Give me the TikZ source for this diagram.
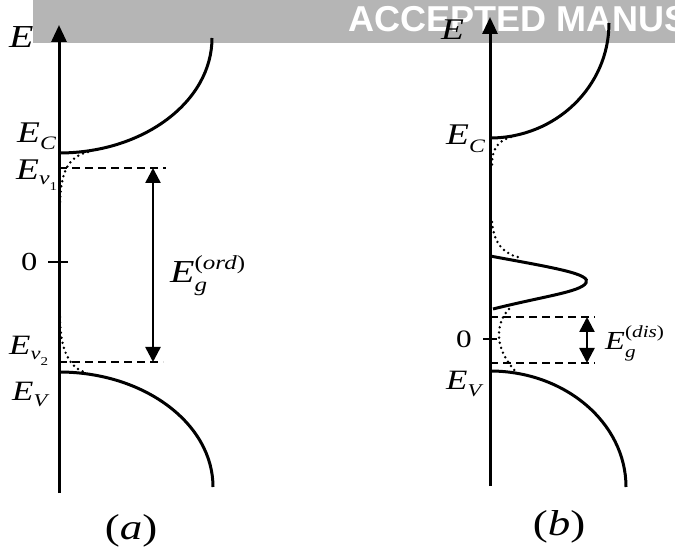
\documentclass[tikz,border=0pt]{standalone}
\usepackage{graphicx}
\usepackage{fontspec}
\setmainfont{Liberation Serif}
\newfontfamily\bannerfont{Liberation Sans}
\usetikzlibrary{arrows.meta}
\newcommand\fs[1]{\fontsize{#1}{#1}\selectfont}
\newcommand\hs[1]{\scalebox{1.25}[1]{#1}}
\tikzset{
  axisline/.style={line width=3pt,-{Triangle[length=17pt,width=15pt]}},
  band/.style={line width=3pt},
  dots/.style={line width=2.7pt,dash pattern=on 0pt off 5.2pt,line cap=round},
  dashline/.style={line width=1.3pt,dash pattern=on 8pt off 5pt},
  gaparrow/.style={line width=2.5pt,{Triangle[length=15pt,width=15pt]}-{Triangle[length=15pt,width=15pt]}},
  tick/.style={line width=2pt},
  lab/.style={inner sep=0pt,anchor=base west},
}
\begin{document}
\begin{tikzpicture}[x=1pt,y=-1pt]
\useasboundingbox (0,0) rectangle (675,553);
% banner
\begin{scope}
\clip (0,0) rectangle (675,553);
\fill[fill={rgb,255:red,181;green,181;blue,181}] (33,0) rectangle (675,43);
\node[lab,text=white] (banner) at (348,32) {\bannerfont\bfseries\fs{36}ACCEPTED MANUS};
\end{scope}

% ---------------- panel (a) ----------------
\coordinate (a0) at (59,493);
\coordinate (a1) at (59,25);
\draw[axisline] (a0) -- (a1);
\draw[band] (59,153) .. controls (143.5,153) and (212,101.5) .. (212,38);
\draw[band] (59,372) .. controls (144,372) and (213,423.5) .. (213,487);
\draw[dots] (88,152) .. controls (68,157) and (60,172) .. (60,207);
\draw[dots] (60,317) .. controls (60,345) and (67,366) .. (84,372);
\coordinate (ev1a) at (59,168); \coordinate (ev1b) at (166,168);
\coordinate (ev2a) at (59,362); \coordinate (ev2b) at (163,362);
\draw[dashline] (ev1a) -- (ev1b);
\draw[dashline] (ev2a) -- (ev2b);
\coordinate (ga1) at (153,168); \coordinate (ga2) at (153,362);
\draw[gaparrow] (ga1) -- (ga2);
\coordinate (ta1) at (48,262); \coordinate (ta2) at (68,262);
\draw[tick] (ta1) -- (ta2);

\node[lab] (Ea) at (9,48) {\hs{\fs{32}\textit{E}}};
\node[lab] (ECa) at (17,143) {\hs{\fs{30}\textit{E}\raisebox{-7pt}{\fs{19}\textit{C}}}};
\node[lab] (Ev1a) at (16,180) {\hs{\fs{30}\textit{E}\raisebox{-5pt}{\fs{19}\textit{ν}\raisebox{-6pt}{\fs{12}1}}}};
\node[lab] (zeroa) at (21,271) {\hs{\fs{26}0}};
\node[lab] (Egord) at (170,283) {\hs{\fs{32}\textit{E}\raisebox{-9pt}{\rlap{\fs{20}\textit{g}}}\raisebox{13pt}{\fs{20}(\textit{ord})}}};
\node[lab] (Ev2a) at (9,355) {\hs{\fs{28}\textit{E}\raisebox{-5pt}{\fs{18}\textit{ν}\raisebox{-6pt}{\fs{12}2}}}};
\node[lab] (EVa) at (12,400) {\hs{\fs{28}\textit{E}\raisebox{-6pt}{\fs{18}\textit{V}}}};
\node[inner sep=0pt] (capa) at (131,531) {\hs{\fs{36}(\textit{a})}};

% ---------------- panel (b) ----------------
\coordinate (b0) at (490,486);
\coordinate (b1) at (490,17);
\draw[axisline] (b0) -- (b1);
\draw[band] (490,138) .. controls (555.7,138) and (609,86.5) .. (609,23);
\draw[band] (490,371) .. controls (565,371) and (626,423) .. (626,487);
\draw[band] (490,256) .. controls (555,268) and (592,274) .. (586,283)
                      .. controls (580,292) and (545,296) .. (493,309);
\draw[dots] (511,137) .. controls (496,142) and (492,150) .. (492,166);
\draw[dots] (492,222) .. controls (494,245) and (505,255) .. (522,258);
\draw[dots] (509,309) .. controls (494,325) and (494,352) .. (521,377);
\coordinate (d1a) at (490,317); \coordinate (d1b) at (595,317);
\coordinate (d2a) at (490,363); \coordinate (d2b) at (595,363);
\draw[dashline] (d1a) -- (d1b);
\draw[dashline] (d2a) -- (d2b);
\coordinate (gb1) at (587,317); \coordinate (gb2) at (587,363);
\draw[gaparrow] (gb1) -- (gb2);
\coordinate (tb1) at (483,339); \coordinate (tb2) at (497,339);
\draw[tick] (tb1) -- (tb2);

\node[lab] (Eb) at (441,40) {\hs{\fs{30}\textit{E}}};
\node[lab] (ECb) at (446,145) {\hs{\fs{30}\textit{E}\raisebox{-8pt}{\fs{19}\textit{C}}}};
\node[lab] (zerob) at (456,348) {\hs{\fs{25}0}};
\node[lab] (EVb) at (446,389) {\hs{\fs{28}\textit{E}\raisebox{-7pt}{\fs{18}\textit{V}}}};
\node[lab] (Egdis) at (605,350) {\hs{\fs{26}\textit{E}\raisebox{-8pt}{\rlap{\fs{17}\textit{g}}}\raisebox{12pt}{\fs{17}(\textit{dis})}}};
\node[inner sep=0pt] (capb) at (559,527) {\hs{\fs{36}(\textit{b})}};
\end{tikzpicture}
\end{document}
